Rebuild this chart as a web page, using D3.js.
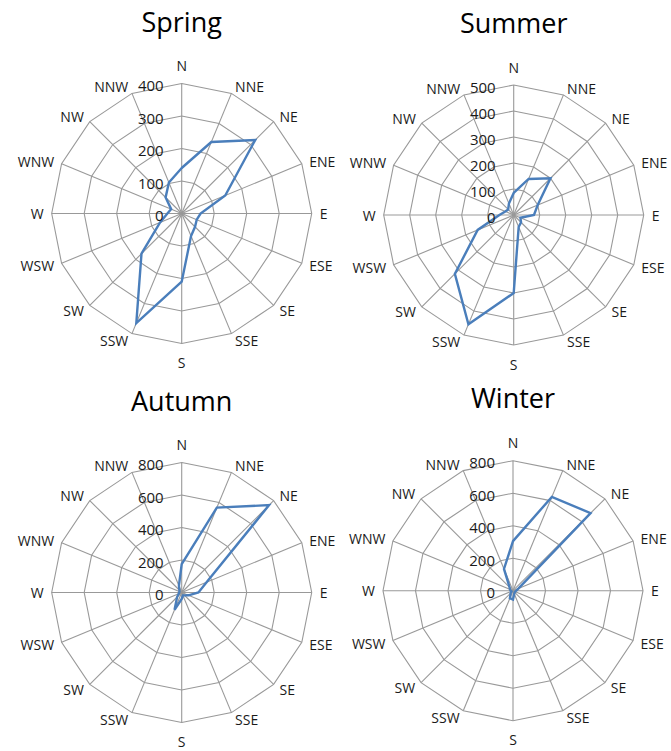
<!DOCTYPE html>
<html><head><meta charset="utf-8">
<script src="https://cdn.jsdelivr.net/npm/d3@7"></script>
<style>
html,body{margin:0;padding:0;background:#fff;}
svg text{font-family:"Open Sans",sans-serif;}
</style></head>
<body><svg id="c" width="671" height="751"></svg>
<script>
const directions = ["N","NNE","NE","ENE","E","ESE","SE","SSE","S","SSW","SW","WSW","W","WNW","NW","NNW"];
const seasons = ["Spring","Summer","Autumn","Winter"];
const springValues = [140,238,320,145,58,50,58,75,210,365,175,72,44,35,70,103];
const summerValues = [85,150,200,100,78,28,40,50,300,455,320,150,55,35,30,48];
const autumnValues = [175,565,760,167,103,45,25,20,40,115,40,20,15,15,20,45];
const winterValues = [305,625,675,37,20,15,15,20,55,50,20,10,15,20,30,145];
const springTicks = [0,100,200,300,400];
const summerTicks = [0,100,200,300,400,500];
const autumnTicks = [0,200,400,600,800];
const winterTicks = [0,200,400,600,800];

const panels = [
  {title: seasons[0], values: springValues, ticks: springTicks, cx: 181.7, cy: 213.5, ty: 32},
  {title: seasons[1], values: summerValues, ticks: summerTicks, cx: 513.7, cy: 215, ty: 33},
  {title: seasons[2], values: autumnValues, ticks: autumnTicks, cx: 181.7, cy: 592.5, ty: 411},
  {title: seasons[3], values: winterValues, ticks: winterTicks, cx: 513, cy: 590.7, ty: 408}
];
const R = 130;
const svg = d3.select("#c");
const angle = d3.scaleBand().domain(directions).range([0, 2*Math.PI]).align(0).paddingInner(0).paddingOuter(0);
const ang = d => angle(d);

panels.forEach(p => {
  const r = d3.scaleLinear().domain([0, d3.max(p.ticks)]).range([0, R]);
  const g = svg.append("g").attr("transform", `translate(${p.cx},${p.cy})`);
  const ring = d3.lineRadial().angle(d => ang(d)).curve(d3.curveLinearClosed);
  p.ticks.filter(t => t > 0).forEach(t => {
    g.append("path").attr("d", ring.radius(() => r(t))(directions))
      .attr("fill","none").attr("stroke","#999").attr("stroke-width",1.1);
  });
  directions.forEach(d => {
    const a = ang(d);
    g.append("line").attr("x1",0).attr("y1",0)
      .attr("x2", r(d3.max(p.ticks))*Math.sin(a)).attr("y2", -r(d3.max(p.ticks))*Math.cos(a))
      .attr("stroke","#999").attr("stroke-width",1.1);
  });
  const line = d3.lineRadial().angle((d,i) => ang(directions[i])).radius(d => r(d)).curve(d3.curveLinearClosed);
  g.append("path").attr("d", line(p.values)).attr("fill","none")
    .attr("stroke","#4a7ebb").attr("stroke-width",2.4).attr("stroke-linejoin","miter");
  p.ticks.forEach(t => {
    g.append("text").attr("x",-18).attr("y", -r(t)+1.5)
      .attr("text-anchor","end").attr("dominant-baseline","central")
      .attr("font-size",15).attr("fill","#1a1a1a").text(t);
  });
  directions.forEach(d => {
    const a = ang(d);
    const s = Math.sin(a), c = Math.cos(a);
    const rr = R + 7;
    let x = rr*s, y = -rr*c;
    let anchor = "middle";
    if (Math.abs(s) < 0.1) { y += (c > 0 ? -11 : 12); }
    else { anchor = s > 0 ? "start" : "end"; x += (s > 0 ? 1 : -1); }
    g.append("text").attr("x",x).attr("y",y).attr("text-anchor",anchor)
      .attr("dominant-baseline","central").attr("font-size",14).attr("fill","#1a1a1a").text(d);
  });
  svg.append("text").attr("x",p.cx).attr("y",p.ty).attr("text-anchor","middle")
    .attr("font-size",27).attr("fill","#000").text(p.title);
});
</script></body></html>
